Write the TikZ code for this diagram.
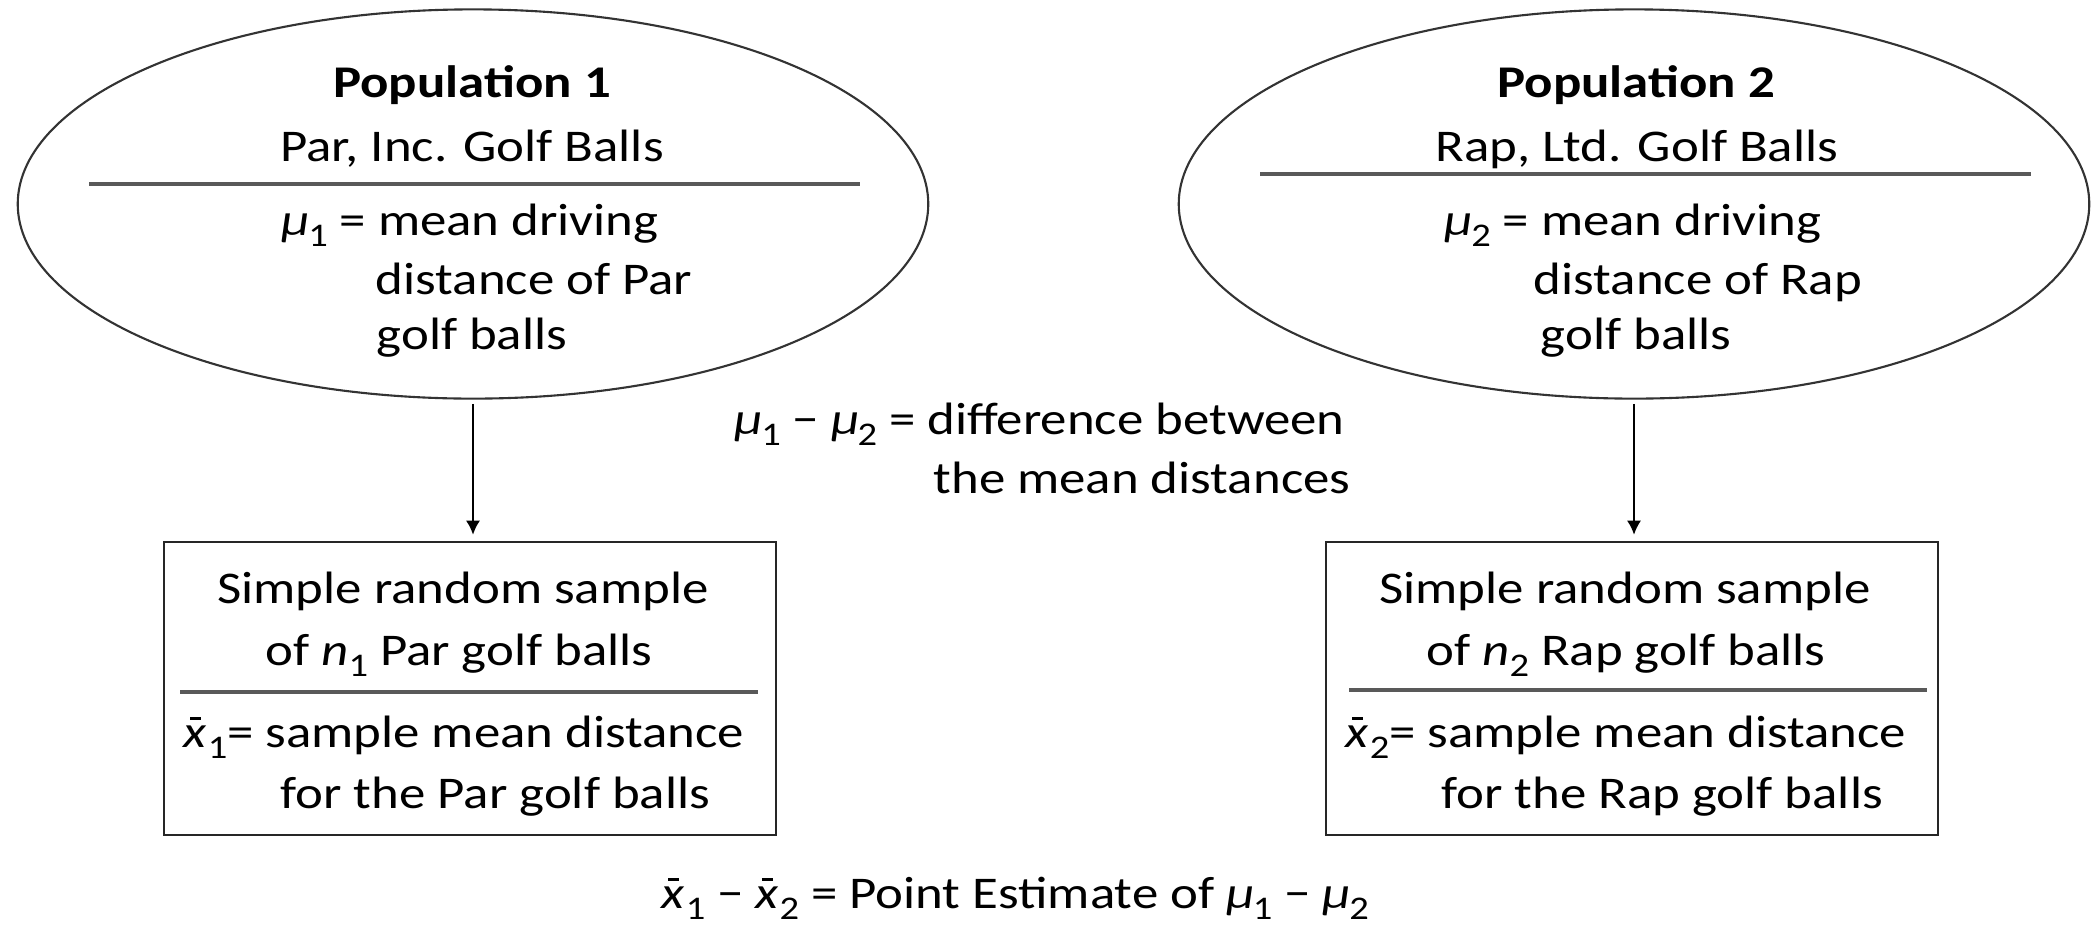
\documentclass[tikz,border=0pt]{standalone}
\usepackage{fontspec}
\setmainfont{Carlito}[FakeStretch=1.165]
\usetikzlibrary{shapes.geometric,arrows.meta}
\newcommand\sbs[1]{\raisebox{-3.2pt}{\fontsize{9.4}{9.4}\selectfont #1}}
\newcommand\mymu[1]{\textit{μ}\kern-0.04em\sbs{#1}}
\newcommand\myxbar[1]{\rlap{\kern0.14em\raisebox{0.6em}{\rule{0.24em}{0.06em}}}\textit{x}\kern0.02em\sbs{#1}}
\tikzset{
  txt/.style={inner sep=0pt, font=\fontsize{12.9}{15}\selectfont},
  popshape/.style={draw=black!80, line width=0.6pt, ellipse, minimum width=9.10cm, minimum height=3.89cm, inner sep=0pt},
  sampbox/.style={draw=black!85, line width=0.7pt, rectangle, minimum width=6.12cm, minimum height=2.93cm, inner sep=0pt},
  divider/.style={draw=black!65, line width=1.1pt},
  conn/.style={draw=black, line width=0.5pt, -{Latex[length=4pt,width=4pt]}}
}
\begin{document}
\begin{tikzpicture}[x=0.01cm, y=-0.01cm]
\useasboundingbox (0,0) rectangle (2091,927);
% populations
\node[popshape] (pop1) at (473,204) {};
\node[popshape] (pop2) at (1634,204) {};
\draw[divider] (89,184) -- (860,184);
\draw[divider] (1260,174) -- (2031,174);
\node[txt, anchor=base] (p1title) at (472,97) {\bfseries Population 1};
\node[txt, anchor=base] (p1name) at (472,161) {Par, Inc. Golf Balls};
\node[txt, anchor=base west] (p1a) at (281,235) {\mymu{1} = mean driving};
\node[txt, anchor=base west] (p1b) at (375,294) {distance of Par};
\node[txt, anchor=base west] (p1c) at (376,349) {golf balls};
\node[txt, anchor=base] (p2title) at (1636,97) {\bfseries Population 2};
\node[txt, anchor=base] (p2name) at (1637,161) {Rap, Ltd. Golf Balls};
\node[txt, anchor=base west] (p2a) at (1444,235) {\mymu{2} = mean driving};
\node[txt, anchor=base west] (p2b) at (1533,294) {distance of Rap};
\node[txt, anchor=base west] (p2c) at (1540,349) {golf balls};
% samples
\node[sampbox] (box1) at (470,688.5) {};
\node[sampbox] (box2) at (1632,688.5) {};
\draw[divider] (180,692) -- (758,692);
\draw[divider] (1349,690) -- (1927,690);
\node[txt, anchor=base] (s1a) at (463,603) {Simple random sample};
\node[txt, anchor=base] (s1b) at (459,665) {of \textit{n}\sbs{1} Par golf balls};
\node[txt, anchor=base west] (s1c) at (183,747) {\myxbar{1}= sample mean distance};
\node[txt, anchor=base west] (s1d) at (280,808) {for the Par golf balls};
\node[txt, anchor=base] (s2a) at (1625,603) {Simple random sample};
\node[txt, anchor=base] (s2b) at (1626,665) {of \textit{n}\sbs{2} Rap golf balls};
\node[txt, anchor=base west] (s2c) at (1345,747) {\myxbar{2}= sample mean distance};
\node[txt, anchor=base west] (s2d) at (1441,808) {for the Rap golf balls};
% arrows
\draw[conn, shorten <=1.2pt, shorten >=1.7pt] (pop1.south) -- (pop1.south |- box1.north);
\draw[conn, shorten <=1.2pt, shorten >=1.7pt] (pop2.south) -- (pop2.south |- box2.north);
% middle and bottom
\node[txt, anchor=base west] (diff1) at (734,434) {\mymu{1} − \mymu{2} = difference between};
\node[txt, anchor=base west] (diff2) at (933,493) {the mean distances};
\node[txt, anchor=base west] (est) at (661,908) {\myxbar{1} − \myxbar{2} = Point Estimate of \mymu{1} − \mymu{2}};
\end{tikzpicture}
\end{document}
